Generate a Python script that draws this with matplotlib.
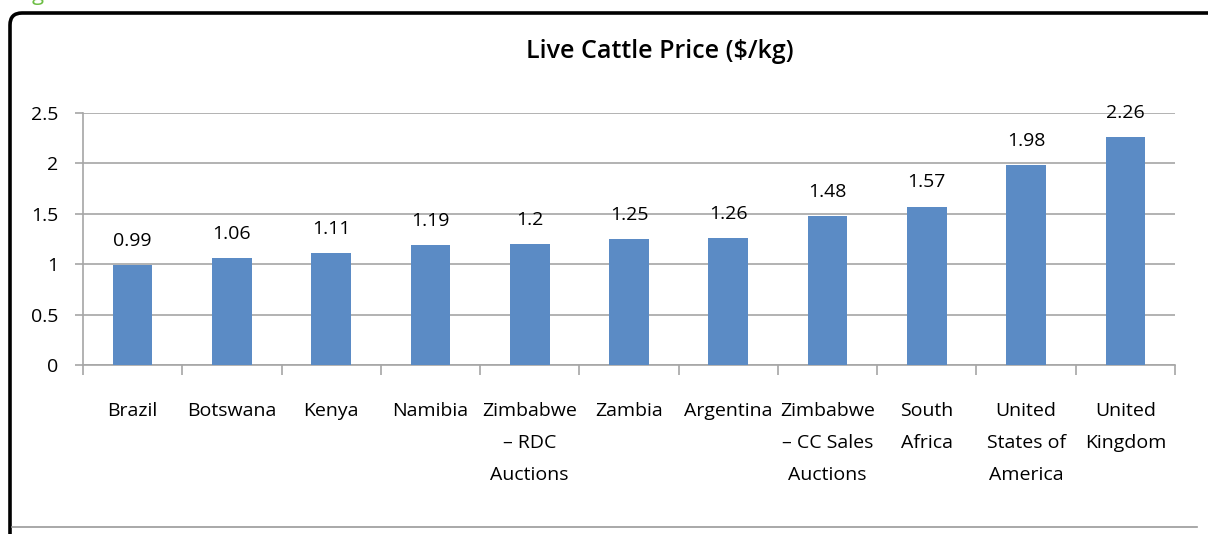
import matplotlib
matplotlib.use("Agg")
import matplotlib.pyplot as plt
from matplotlib.patches import FancyBboxPatch
from matplotlib.lines import Line2D
import numpy as np

# data
countries = ["Brazil", "Botswana", "Kenya", "Namibia", "Zimbabwe\n\u2013 RDC\nAuctions",
             "Zambia", "Argentina", "Zimbabwe\n\u2013 CC Sales\nAuctions", "South\nAfrica",
             "United\nStates of\nAmerica", "United\nKingdom"]
prices = [0.99, 1.06, 1.11, 1.19, 1.2, 1.25, 1.26, 1.48, 1.57, 1.98, 2.26]
price_labels = ["0.99", "1.06", "1.11", "1.19", "1.2", "1.25", "1.26", "1.48", "1.57", "1.98", "2.26"]
yticks = [0, 0.5, 1, 1.5, 2, 2.5]
ytick_labels = ["0", "0.5", "1", "1.5", "2", "2.5"]

plt.rcParams['font.family'] = ['Open Sans', 'DejaVu Sans']

fig = plt.figure(figsize=(12.08, 5.34), dpi=100)
ax = fig.add_axes([83 / 1208, 1 - 365 / 534, (1175 - 83) / 1208, (365 - 113) / 534])

x = np.arange(len(countries))
ax.bar(x, prices, width=0.4, color="#5B8BC5", zorder=3)

for xi, p, lab in zip(x, prices, price_labels):
    ax.annotate(lab, (xi, p), xytext=(0, 11), textcoords="offset points",
                ha="center", va="bottom", fontsize=14, color="black", zorder=4)

ax.set_xlim(-0.5, len(countries) - 0.5)
ax.set_ylim(0, 2.5)
ax.set_yticks(yticks)
ax.set_yticklabels(ytick_labels, fontsize=14)
ax.yaxis.grid(True, color="#A6A6A6", linewidth=1.2, zorder=0)

ax.set_xticks(x)
ax.set_xticklabels(countries, fontsize=14, linespacing=2.0, va="top")
ax.tick_params(axis="x", length=0, pad=27)
ax.tick_params(axis="y", length=6, width=1.2, color="#A6A6A6", pad=12)

# category boundary ticks below the axis
ax.set_xticks(np.arange(len(countries) + 1) - 0.5, minor=True)
ax.tick_params(axis="x", which="minor", length=7, width=1.2, color="#A6A6A6")

for s in ["top", "right"]:
    ax.spines[s].set_visible(False)
for s in ["left", "bottom"]:
    ax.spines[s].set_color("#A6A6A6")
    ax.spines[s].set_linewidth(1.2)

fig.text(660 / 1208, 1 - 52 / 534, "Live Cattle Price ($/kg)", ha="center", va="center",
         fontsize=18, fontweight="semibold")

# frame around the chart (only left and top visible in the crop)
frame = FancyBboxPatch((10, -100), 1400, 621, boxstyle="round,pad=0,rounding_size=12",
                       transform=None, fill=False, edgecolor="black", linewidth=2.6)
fig.patches.append(frame)
fig.lines.append(Line2D([12, 1197], [7, 7], transform=None, color="#999999", linewidth=1.2))
fig.text(38 / 1208, 1.0, "g", color="#6DBE45", fontsize=16, ha="center", va="baseline")

fig.savefig("out.png", dpi=100)
